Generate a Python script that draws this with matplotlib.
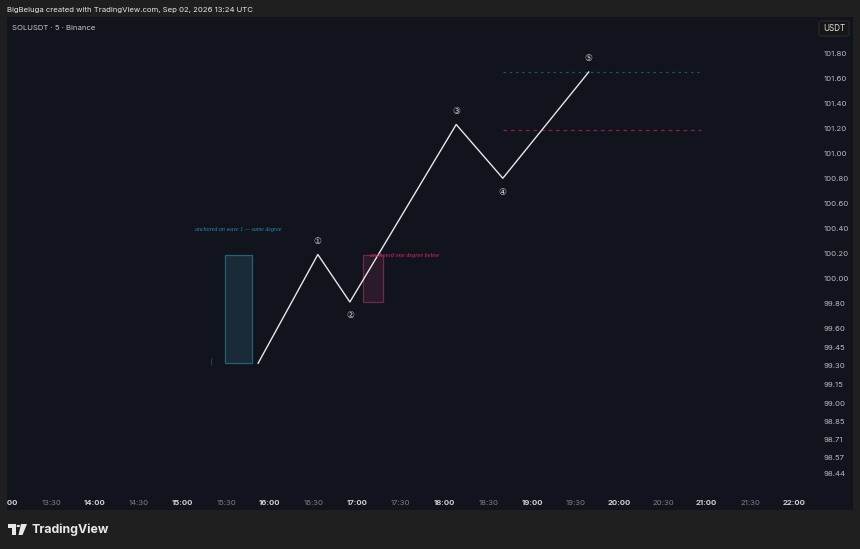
import numpy as np
import matplotlib
matplotlib.use("Agg")
import matplotlib.pyplot as plt
from matplotlib.patches import Rectangle, FancyBboxPatch, Polygon, Circle

# wave pivots (time hh:mm, price)
wave_times = ["15:52", "16:33", "16:55", "18:08", "18:40", "19:39"]
wave_prices = [99.32, 100.19, 99.81, 101.23, 100.80, 101.65]
wave_labels = ["", "\u2460", "\u2461", "\u2462", "\u2463", "\u2464"]

# zones: (t0, t1, low, high)
teal_zone = ("15:29", "15:48", 99.32, 100.19)
pink_zone = ("17:04", "17:18", 99.81, 100.19)
teal_level = 101.65
red_level = 101.19
level_span = ("18:40", "20:56")

price_ticks = [101.80, 101.60, 101.40, 101.20, 101.00, 100.80, 100.60, 100.40, 100.20,
               100.00, 99.80, 99.60, 99.45, 99.30, 99.15, 99.00, 98.85, 98.71, 98.57, 98.44]
time_ticks = ["13:00", "13:30", "14:00", "14:30", "15:00", "15:30", "16:00", "16:30", "17:00",
              "17:30", "18:00", "18:30", "19:00", "19:30", "20:00", "20:30", "21:00", "21:30", "22:00"]


def hrs(s):
    h, m = s.split(":")
    return int(h) + int(m) / 60.0


W, H = 860, 549
BG_OUT = "#1f1f1f"
BG = "#11141c"
fig = plt.figure(figsize=(W / 100, H / 100), dpi=100, facecolor=BG_OUT)
plt.rcParams['font.family'] = ['Inter', 'DejaVu Sans', 'Noto Sans CJK JP']

# chart panel background
fig.add_artist(Rectangle((7 / W, 1 - 510 / H), (853 - 7) / W, (510 - 17) / H,
                         transform=fig.transFigure, facecolor=BG, edgecolor="none", zorder=-5))

ax = fig.add_axes([7 / W, 1 - 490 / H, (817 - 7) / W, (490 - 17) / H])
ax.set_facecolor(BG)
for s in ax.spines.values():
    s.set_visible(False)

ax.set_xlim(13 + 0.6 / 60 - 1 / 60, 22 + 15.7 / 60)
ax.set_ylim(98.306, 102.09)

x = [hrs(t) for t in wave_times]
ax.plot(x, wave_prices, color="#e6e6e6", lw=1.0, zorder=5)

for i, (xx, yy, lab) in enumerate(zip(x, wave_prices, wave_labels)):
    if not lab:
        continue
    up = wave_prices[i] > wave_prices[i - 1]
    ax.annotate(lab, (xx, yy), xytext=(0, 9.5 if up else -10), textcoords="offset points",
                ha="center", va="center", color="#d0d0d0", fontsize=6.4,
                family=['DejaVu Sans', 'Noto Sans CJK JP'])

# teal zone
t0, t1, lo, hi = teal_zone
ax.add_patch(Rectangle((hrs(t0), lo), hrs(t1) - hrs(t0), hi - lo, facecolor="#1a2a36",
                       edgecolor="#1f6378", lw=0.9, zorder=3))
ax.text(hrs("15:38"), 100.394, "anchored on wave 1 \u2014 same degree", color="#2a8db0",
        fontsize=4.3, style="italic", family="Liberation Serif", ha="center", va="center")
ax.text(hrs("15:20"), 99.33, "|", color="#2a8db0", fontsize=3.5, ha="center", va="center")

# pink zone
t0, t1, lo, hi = pink_zone
ax.add_patch(Rectangle((hrs(t0), lo), hrs(t1) - hrs(t0), hi - lo, facecolor="#2b1a29",
                       edgecolor="#6e2a4c", lw=0.9, zorder=3))
ax.text(hrs("17:09"), 100.18, "anchored one degree below", color="#a82255",
        fontsize=4.4, style="italic", weight="bold", family="Liberation Serif",
        ha="left", va="center", zorder=6)

# target levels
ax.hlines(teal_level, hrs(level_span[0]), hrs(level_span[1]), color="#1f5366",
          lw=0.9, linestyles=(0, (2, 3)), zorder=2)
ax.hlines(red_level, hrs(level_span[0]), hrs(level_span[1]), color="#8c1f45",
          lw=0.9, linestyles=(0, (3, 3)), zorder=2)

# axes ticks
ax.yaxis.tick_right()
ax.set_yticks(price_ticks)
ax.set_yticklabels(["%.2f" % v for v in price_ticks])
ax.tick_params(axis="y", length=0, pad=5, labelsize=5.6, labelcolor="#b8bac0")
ax.set_xticks([hrs(t) for t in time_ticks])
ax.set_xticklabels(time_ticks)
ax.tick_params(axis="x", length=0, pad=7, labelsize=5.6)
for lab in ax.get_xticklabels():
    if lab.get_text().endswith(":00"):
        lab.set_color("#d0d0d0")
        lab.set_fontweight("bold")
    else:
        lab.set_color("#7e8088")

# cover part of cut-off first time label
fig.add_artist(Rectangle((0, 0), 7 / W, 1, transform=fig.transFigure,
                         facecolor=BG_OUT, edgecolor="none", zorder=10))

# header texts
fig.text(7 / W, 1 - 10 / H, "BigBeluga created with TradingView.com, Sep 02, 2026 13:24 UTC",
         color="#e8e8e8", fontsize=5.6, va="center", ha="left")
fig.text(12 / W, 1 - 28 / H, "SOLUSDT \u00b7 5 \u00b7 Binance", color="#c8c8c8",
         fontsize=5.6, va="center", ha="left")

# USDT badge
fig.add_artist(FancyBboxPatch((819 / W, 1 - 36 / H), 30 / W, 15 / H,
                              boxstyle="round,pad=0,rounding_size=0.004",
                              transform=fig.transFigure, facecolor="#161616",
                              edgecolor="#2e2e2e", lw=0.7, zorder=11))
fig.text(834 / W, 1 - 28.5 / H, "USDT", color="#e0e0e0", fontsize=5.8,
         ha="center", va="center", zorder=12)

# TradingView logo
lc = "#e8e8e8"
fig.add_artist(Polygon([[8 / W, 1 - 524 / H], [16 / W, 1 - 524 / H], [16 / W, 1 - 535 / H],
                        [12 / W, 1 - 535 / H], [12 / W, 1 - 527.5 / H], [8 / W, 1 - 527.5 / H]],
                       closed=True, transform=fig.transFigure, facecolor=lc, edgecolor="none"))
fig.add_artist(Circle((18.3 / W, 1 - 526 / H), 1.8 / W, transform=fig.transFigure,
                      facecolor=lc, edgecolor="none"))
fig.add_artist(Polygon([[21 / W, 1 - 524 / H], [27 / W, 1 - 524 / H], [22.5 / W, 1 - 535 / H],
                        [18.5 / W, 1 - 535 / H]],
                       closed=True, transform=fig.transFigure, facecolor=lc, edgecolor="none"))
fig.text(31 / W, 1 - 529.5 / H, "TradingView", color=lc, fontsize=8.9, weight="bold",
         ha="left", va="center")

fig.savefig("out.png", dpi=100, facecolor=BG_OUT)
